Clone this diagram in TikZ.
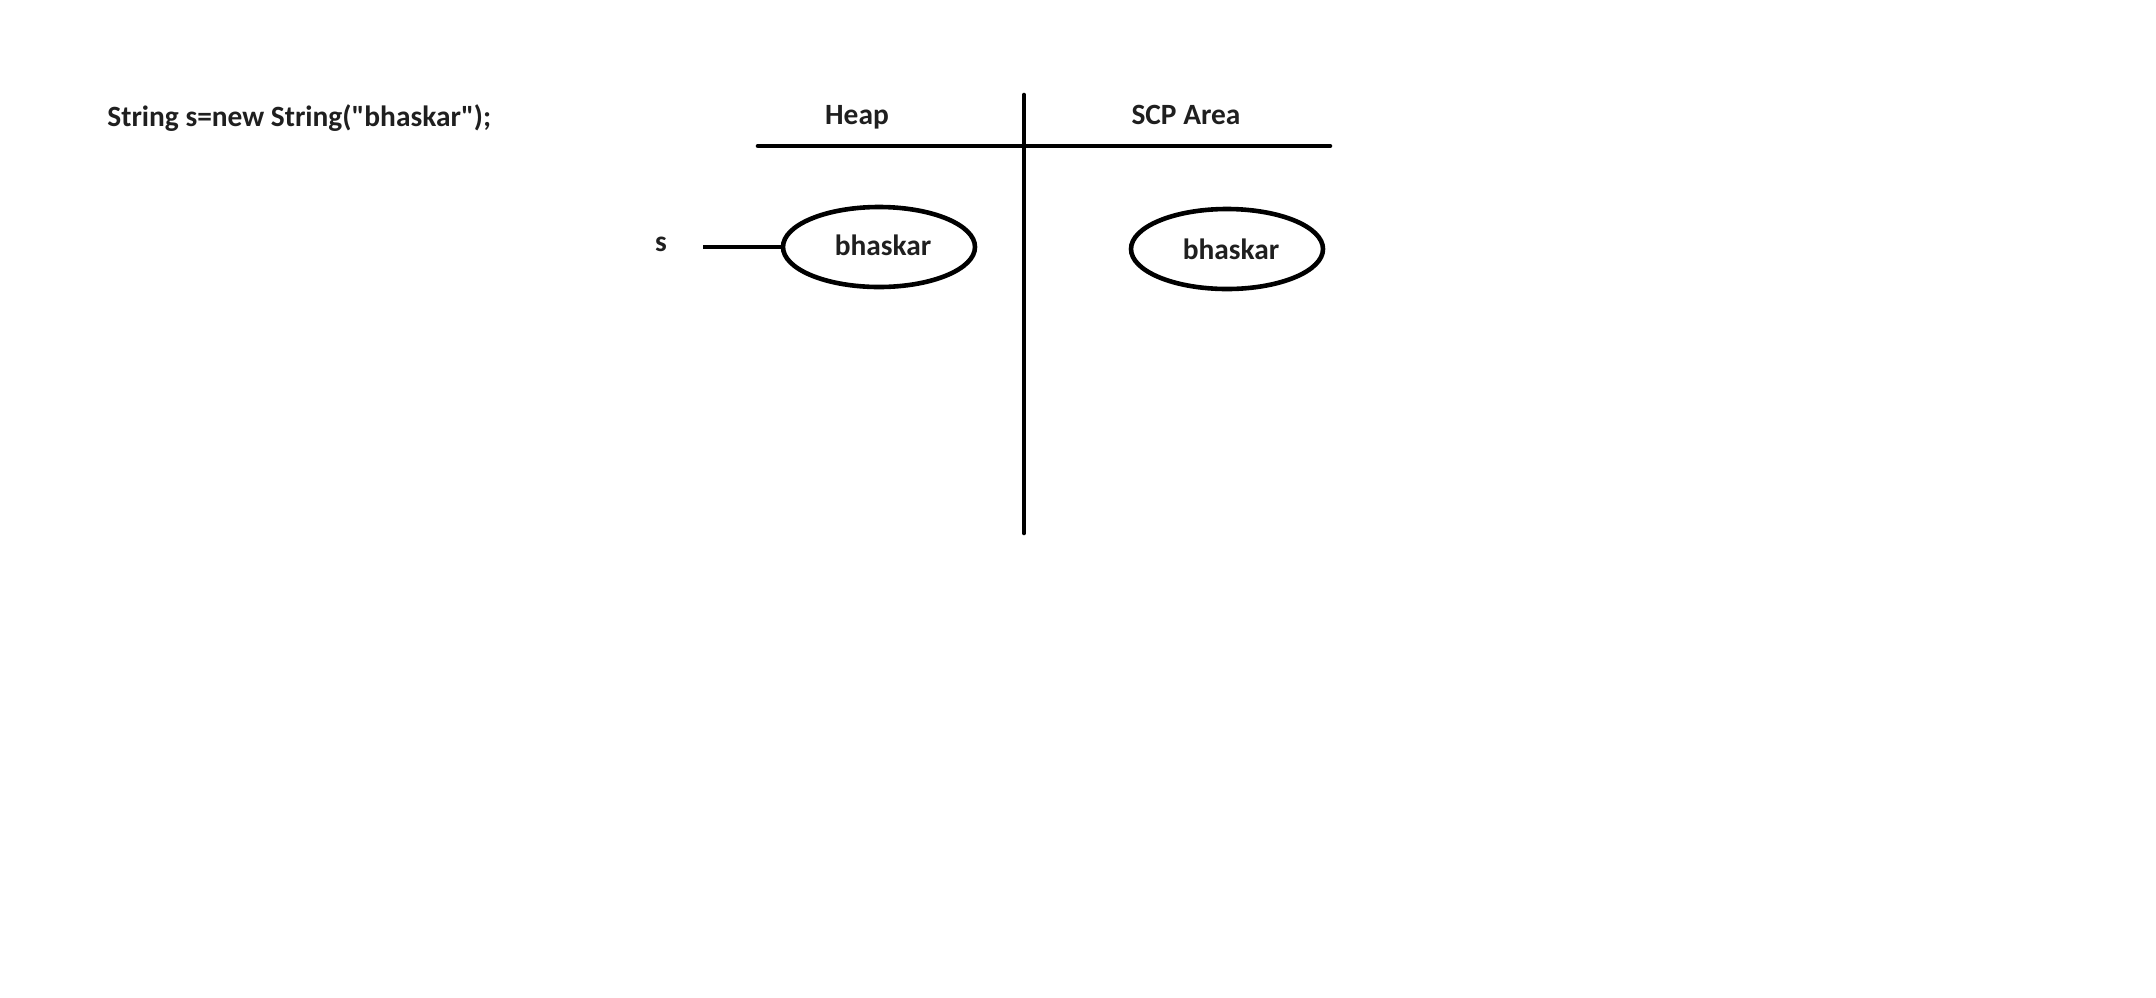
\documentclass[tikz,border=0pt]{standalone}
\usepackage{fontspec}
\setmainfont{Carlito}[Ligatures=TeXOff]
\usetikzlibrary{shapes.geometric}
\begin{document}
\begin{tikzpicture}[x=0.5pt,y=-0.5pt,
  lbl/.style={font=\bfseries\fontsize{14.7}{17}\selectfont, text=black!88, inner sep=0pt},
  obj/.style={ellipse, draw, line width=2.3pt, minimum width=96pt, minimum height=40pt, inner sep=0pt},
  rule/.style={line width=2.3pt, line cap=round}]
  \useasboundingbox (0,0) rectangle (2156,997);
  % declaration
  \node[lbl, anchor=west] (decl) at (107,118.5) {String s=new String("bhaskar");};
  % column headers
  \node[lbl] (heap) at (857,117) {Heap};
  \node[lbl] (scp) at (1186,115) {SCP Area};
  % dividing lines
  \coordinate (hl) at (758,146);
  \coordinate (hr) at (1330,146);
  \coordinate (vt) at (1024,95);
  \coordinate (vb) at (1024,533);
  \draw[rule] (hl) -- (hr);
  \draw[rule] (vt) -- (vb);
  % string objects
  \node[obj] (heapobj) at (879,247) {};
  \node[lbl] (heaptxt) at ([xshift=2pt,yshift=1pt]heapobj.center) {bhaskar};
  \node[obj] (scpobj) at (1227,249) {};
  \node[lbl] (scptxt) at ([xshift=2pt]scpobj.center) {bhaskar};
  % reference variable
  \node[lbl] (s) at (661,244) {s};
  \coordinate (sref) at (703,247);
  \draw[line width=2.3pt] (sref) -- (heapobj.west);
\end{tikzpicture}
\end{document}
